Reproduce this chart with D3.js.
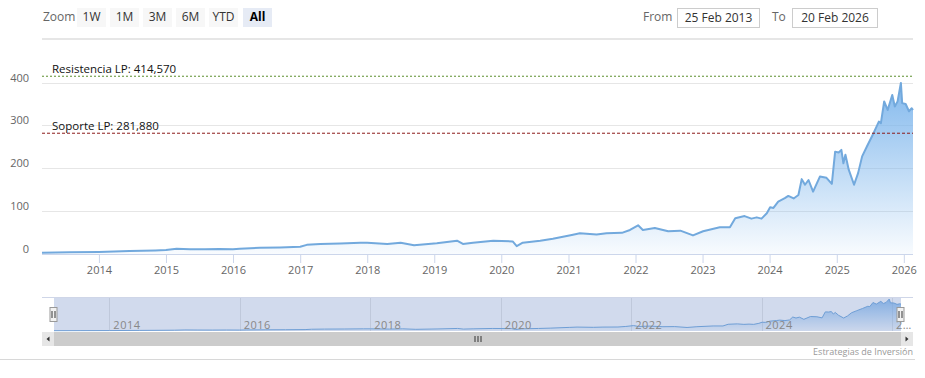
<!DOCTYPE html>
<html>
<head>
<meta charset="utf-8">
<script src="https://cdn.jsdelivr.net/npm/d3@7"></script>
<style>
  body { margin: 0; background: #fff; }
  svg { font-family: "Open Sans", "Noto Sans", sans-serif; }
</style>
</head>
<body>
<script>
// price series
var dates = [
  "2013-02-25","2013-07-26","2014-01-01","2014-06-17","2014-11-03","2015-01-01","2015-02-28",
  "2015-05-12","2015-07-31","2015-10-19","2016-01-01","2016-02-06","2016-05-26","2016-09-13",
  "2017-01-01","2017-02-06","2017-04-20","2017-08-08","2017-11-25","2018-01-01","2018-04-20",
  "2018-07-02","2018-09-13","2019-01-15","2019-05-05","2019-06-06","2019-07-31","2019-11-18",
  "2020-03-03","2020-03-25","2020-04-27","2020-07-31","2020-10-08","2021-01-19","2021-03-04",
  "2021-06-03","2021-07-27","2021-10-19","2021-12-02","2022-01-15","2022-02-10","2022-04-16",
  "2022-06-28","2022-09-02","2022-11-10","2023-01-04","2023-04-05","2023-05-30","2023-06-28",
  "2023-08-18","2023-09-24","2023-10-23","2023-11-18","2023-12-17","2024-01-04","2024-01-22",
  "2024-02-17","2024-03-24","2024-04-12","2024-05-11","2024-06-06","2024-06-24","2024-07-12",
  "2024-07-31","2024-08-25","2024-10-01","2024-11-06","2024-12-05","2024-12-23","2025-01-11",
  "2025-01-26","2025-02-06","2025-02-17","2025-03-07","2025-04-05","2025-04-27","2025-05-19",
  "2025-06-14","2025-07-20","2025-08-18","2025-08-29","2025-09-16","2025-10-05","2025-10-30",
  "2025-11-13","2025-11-28","2025-12-16","2025-12-23","2026-01-11","2026-01-29","2026-02-13",
  "2026-02-20"
];
var prices = [
  3.7, 4.5, 5.4, 7.5, 9, 10, 13,
  12, 11.5, 12.5, 11.7, 13, 15, 16,
  17.7, 22, 24, 25, 27, 27, 24,
  27, 21, 25.6, 31.7, 24, 27, 31.7,
  30, 19, 27, 31.7, 36, 45, 49,
  46, 49, 50, 56.7, 67.6, 56.7, 61.3,
  53.6, 55, 44, 53.6, 63, 63, 84,
  89, 83, 86, 83, 95.6, 109.6, 108,
  122.7, 130.6, 136, 130, 138, 175, 162,
  173, 146, 181, 178, 164, 239, 237,
  243, 212, 232, 197, 162, 189, 228,
  251, 282, 309, 305, 356, 336, 371,
  344, 356, 399, 352, 350, 333, 340,
  336
];
var yTicks = [0, 100, 200, 300, 400];
var xTickYears = [2014, 2015, 2016, 2017, 2018, 2019, 2020, 2021, 2022, 2023, 2024, 2025, 2026];
var navYears = [2014, 2016, 2018, 2020, 2022, 2024, 2026];
var zoomButtons = ["1W", "1M", "3M", "6M", "YTD", "All"];
var resistance = 414.57, support = 281.88;
var fromLabel = "25 Feb 2013", toLabel = "20 Feb 2026";

var W = 925, H = 378;
var plot = { left: 42, right: 913, top: 39, bottom: 254.3 };
var nav = { left: 54, right: 901, top: 297, bottom: 331 };

var parse = d3.timeParse("%Y-%m-%d");
var data = dates.map(function (d, i) { return { date: parse(d), price: prices[i] }; });

var svg = d3.select("body").append("svg").attr("width", W).attr("height", H);

var x = d3.scaleTime()
  .domain([parse("2013-02-25"), parse("2026-02-20")])
  .range([plot.left, plot.right]);
var y = d3.scaleLinear().domain([0, 400]).range([plot.bottom, 82.5]);

// gradients
var defs = svg.append("defs");
var g1 = defs.append("linearGradient").attr("id", "areaFill")
  .attr("gradientUnits", "userSpaceOnUse")
  .attr("x1", 0).attr("x2", 0).attr("y1", 82).attr("y2", plot.bottom);
g1.append("stop").attr("offset", 0).attr("stop-color", "#7cb5ec").attr("stop-opacity", 0.95);
g1.append("stop").attr("offset", 1).attr("stop-color", "#7cb5ec").attr("stop-opacity", 0.05);
var g2 = defs.append("linearGradient").attr("id", "navFill")
  .attr("gradientUnits", "userSpaceOnUse")
  .attr("x1", 0).attr("x2", 0).attr("y1", nav.top).attr("y2", nav.bottom);
g2.append("stop").attr("offset", 0).attr("stop-color", "#7cb5ec").attr("stop-opacity", 0.9);
g2.append("stop").attr("offset", 1).attr("stop-color", "#7cb5ec").attr("stop-opacity", 0.05);

// range selector
svg.append("text").attr("x", 43).attr("y", 21).attr("font-size", 12)
  .attr("fill", "#666").text("Zoom");
var btnX = [77, 110, 143, 176, 209, 243];
zoomButtons.forEach(function (b, i) {
  var sel = b === "All";
  svg.append("rect").attr("x", btnX[i]).attr("y", 8).attr("width", 29).attr("height", 19)
    .attr("fill", sel ? "#e6ebf5" : "#f7f7f7");
  svg.append("text").attr("x", btnX[i] + 14.5).attr("y", 21).attr("text-anchor", "middle")
    .attr("font-size", 12).attr("font-weight", sel ? "bold" : "normal")
    .attr("fill", sel ? "#000" : "#333").text(b);
});
svg.append("text").attr("x", 643).attr("y", 21).attr("font-size", 12).attr("fill", "#666").text("From");
svg.append("rect").attr("x", 677.5).attr("y", 8.5).attr("width", 82).attr("height", 19)
  .attr("fill", "#fff").attr("stroke", "#ccc");
svg.append("text").attr("x", 718.5).attr("y", 21.5).attr("text-anchor", "middle")
  .attr("font-size", 12).attr("fill", "#333").text(fromLabel);
svg.append("text").attr("x", 772).attr("y", 21).attr("font-size", 12).attr("fill", "#666").text("To");
svg.append("rect").attr("x", 792.5).attr("y", 8.5).attr("width", 85).attr("height", 19)
  .attr("fill", "#fff").attr("stroke", "#ccc");
svg.append("text").attr("x", 835).attr("y", 21.5).attr("text-anchor", "middle")
  .attr("font-size", 12).attr("fill", "#333").text(toLabel);

// top border of plot
svg.append("line").attr("x1", plot.left).attr("x2", plot.right)
  .attr("y1", plot.top).attr("y2", plot.top).attr("stroke", "#e6e6e6").attr("stroke-width", 2);

// y grid + labels
var yAxis = svg.append("g").attr("class", "y-axis");
yTicks.forEach(function (t) {
  if (t > 0) {
    yAxis.append("line").attr("x1", plot.left).attr("x2", plot.right)
      .attr("y1", Math.round(y(t)) + 0.5).attr("y2", Math.round(y(t)) + 0.5)
      .attr("stroke", "#e6e6e6");
  }
  yAxis.append("text").attr("x", 29).attr("y", y(t) - 1).attr("text-anchor", "end")
    .attr("font-size", 11).attr("fill", "#666").text(t);
});

// area + line
var area = d3.area().x(function (d) { return x(d.date); })
  .y0(y(0)).y1(function (d) { return y(d.price); });
var line = d3.line().x(function (d) { return x(d.date); })
  .y(function (d) { return y(d.price); });
svg.append("path").datum(data).attr("d", area).attr("fill", "url(#areaFill)");
svg.append("path").datum(data).attr("d", line).attr("fill", "none")
  .attr("stroke", "#72a9dd").attr("stroke-width", 2).attr("stroke-linejoin", "round");

// x axis
var xAxis = svg.append("g").attr("transform", "translate(0," + Math.round(plot.bottom) + ")")
  .call(d3.axisBottom(x)
    .tickValues(xTickYears.map(function (yr) { return new Date(yr, 0, 1); }))
    .tickFormat(d3.timeFormat("%Y")).tickSize(9).tickPadding(3));
xAxis.select(".domain").attr("stroke", "#ccd6eb").attr("d", "M" + plot.left + ",0.5H" + plot.right);
xAxis.selectAll(".tick line").attr("stroke", "#ccd6eb");
xAxis.selectAll(".tick text").attr("font-size", 11).attr("fill", "#666")
  .attr("font-family", "'Open Sans', sans-serif");

// plot lines
svg.append("line").attr("x1", plot.left).attr("x2", plot.right)
  .attr("y1", y(resistance)).attr("y2", y(resistance))
  .attr("stroke", "#5b8f2e").attr("stroke-dasharray", "2,2");
svg.append("text").attr("x", 52).attr("y", y(resistance) - 3).attr("font-size", 11.5)
  .attr("fill", "#111").text("Resistencia LP: " + d3.format(",.3f")(resistance).replace(".", ","));
svg.append("line").attr("x1", plot.left).attr("x2", plot.right)
  .attr("y1", y(support)).attr("y2", y(support))
  .attr("stroke", "#8b1a1a").attr("stroke-dasharray", "3,2");
svg.append("text").attr("x", 52).attr("y", y(support) - 3).attr("font-size", 11.5)
  .attr("fill", "#111").text("Soporte LP: " + d3.format(",.3f")(support).replace(".", ","));

// navigator
var nx = d3.scaleTime().domain(x.domain()).range([nav.left, nav.right]);
var ny = d3.scaleLinear().domain([0, 400]).range([nav.bottom, 299]);
svg.append("rect").attr("x", plot.left).attr("y", nav.top).attr("width", plot.right - plot.left)
  .attr("height", nav.bottom - nav.top).attr("fill", "#fff");
navYears.forEach(function (yr) {
  var px = Math.round(nx(new Date(yr, 0, 1))) + 0.5;
  svg.append("line").attr("x1", px).attr("x2", px).attr("y1", nav.top).attr("y2", nav.bottom)
    .attr("stroke", "#e6e6e6");
});
var navArea = d3.area().x(function (d) { return nx(d.date); })
  .y0(nav.bottom).y1(function (d) { return ny(d.price); });
var navLine = d3.line().x(function (d) { return nx(d.date); })
  .y(function (d) { return ny(d.price); });
svg.append("path").datum(data).attr("d", navArea).attr("fill", "url(#navFill)");
svg.append("path").datum(data).attr("d", navLine).attr("fill", "none")
  .attr("stroke", "#72a9dd").attr("stroke-width", 1);
// selected mask (full range)
svg.append("rect").attr("x", nav.left).attr("y", nav.top).attr("width", nav.right - nav.left)
  .attr("height", nav.bottom - nav.top).attr("fill", "rgba(102,133,194,0.3)");
svg.append("line").attr("x1", plot.left).attr("x2", plot.right).attr("y1", nav.top + 0.5)
  .attr("y2", nav.top + 0.5).attr("stroke", "#cfd6e8");
navYears.forEach(function (yr) {
  var px = nx(new Date(yr, 0, 1));
  svg.append("text").attr("x", px + 4).attr("y", 329).attr("font-size", 11)
    .attr("fill", "#888").attr("letter-spacing", 0.5)
    .text(yr === 2026 ? "2…" : yr);
});
// handles
[nav.left - 0.5, nav.right - 0.5].forEach(function (hx) {
  svg.append("rect").attr("x", hx - 3.5).attr("y", 307.5).attr("width", 7).attr("height", 14)
    .attr("fill", "#f2f2f2").attr("stroke", "#999");
  svg.append("line").attr("x1", hx - 1.5).attr("x2", hx - 1.5).attr("y1", 311).attr("y2", 318)
    .attr("stroke", "#333");
  svg.append("line").attr("x1", hx + 1.5).attr("x2", hx + 1.5).attr("y1", 311).attr("y2", 318)
    .attr("stroke", "#333");
});

// scrollbar
svg.append("rect").attr("x", plot.left).attr("y", 332).attr("width", plot.right - plot.left)
  .attr("height", 14).attr("fill", "#cccccc");
svg.append("rect").attr("x", plot.left).attr("y", 332).attr("width", 12).attr("height", 14)
  .attr("fill", "#e6e6e6");
svg.append("rect").attr("x", plot.right - 12).attr("y", 332).attr("width", 12).attr("height", 14)
  .attr("fill", "#e6e6e6");
svg.append("path").attr("d", "M49.5,336.5L46.5,339L49.5,341.5Z").attr("fill", "#333");
svg.append("path").attr("d", "M905.5,336.5L908.5,339L905.5,341.5Z").attr("fill", "#333");
[-3, 0, 3].forEach(function (o) {
  var cx = (plot.left + plot.right) / 2 + o + 0.5;
  svg.append("line").attr("x1", cx).attr("x2", cx).attr("y1", 336).attr("y2", 342)
    .attr("stroke", "#333");
});

// credits + bottom border
svg.append("text").attr("x", 913).attr("y", 355).attr("text-anchor", "end")
  .attr("font-size", 9).attr("fill", "#999").text("Estrategias de Inversión");
svg.append("line").attr("x1", 0).attr("x2", 915).attr("y1", 359.5).attr("y2", 359.5)
  .attr("stroke", "#d8d8d8");
</script>
</body>
</html>
